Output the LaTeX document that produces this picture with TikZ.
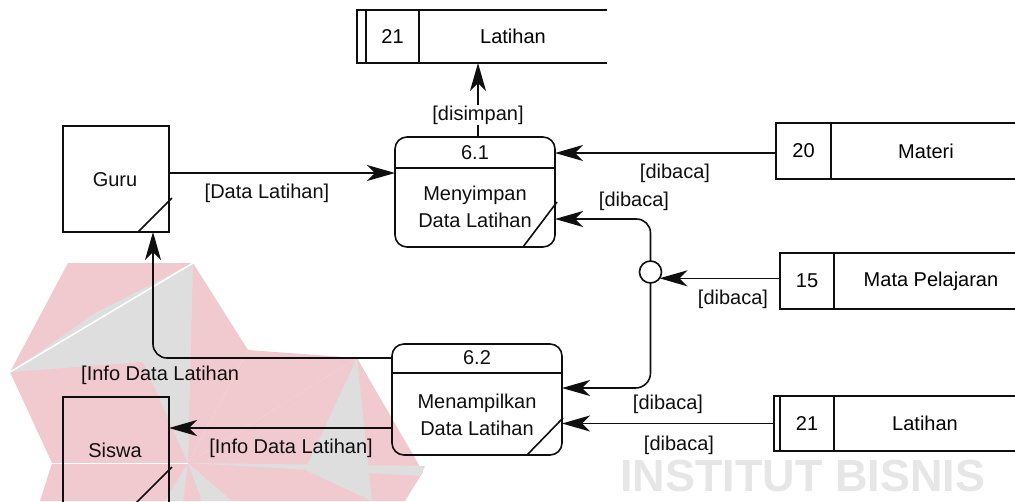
\documentclass[tikz,border=0pt]{standalone}
\usepackage{fontspec}
\setmainfont{Liberation Sans}
\usetikzlibrary{arrows.meta,calc}
\definecolor{wmpink}{RGB}{241,202,207}
\definecolor{wmgray}{RGB}{222,222,222}
\definecolor{wmtext}{RGB}{230,230,230}
\definecolor{ln}{RGB}{15,15,15}
\begin{document}
\begin{tikzpicture}[x=1pt,y=-1pt,font=\fontsize{20}{27}\selectfont,
  flow/.style={line width=1.6pt,draw=ln,-{Stealth[length=28pt,width=16pt,inset=8pt]}},
  boxline/.style={line width=1.6pt,draw=ln},
  proc/.style={draw=ln,line width=1.6pt,rounded corners=12pt,inner sep=0pt,outer sep=0pt},
  ent/.style={draw=ln,line width=1.6pt,minimum size=106pt,inner sep=0pt,outer sep=0pt},
  cell/.style={inner sep=0pt,outer sep=0pt,minimum height=55pt},
  lbl/.style={inner sep=1pt,text=ln},
  txt/.style={inner sep=0pt,align=center,text=ln}]
\useasboundingbox (0,0) rectangle (1015,501);
\clip (0,0) rectangle (1015,501);
% watermark
\fill[wmpink] (68,263) -- (193,263) -- (248,350) -- (188,463) -- (52,463) -- (10,372) -- cycle;
\fill[wmpink] (248,350) -- (357,358) -- (188,463) -- cycle;
\fill[wmpink] (357,358) -- (423,472) -- (405,501) -- (188,501) -- (188,463) -- cycle;
\fill[wmpink] (52,463) -- (188,463) -- (188,501) -- (40,501) -- cycle;
\fill[wmgray] (193,263) -- (97,312) -- (10,372) -- (143,362) -- (188,463) -- cycle;
\draw[white,line width=1.5pt] (193,263) -- (10,372);
\fill[wmgray] (357,358) -- (305,470) -- (372,501) -- cycle;
\fill[wmgray] (188,463) -- (425,466) -- (420,476) -- cycle;
\fill[wmgray] (188,463) -- (165,501) -- (183,501) -- cycle;
\fill[wmgray] (188,463) -- (202,501) -- (232,501) -- cycle;
\draw[white,line width=1pt] (188,463) -- (52,463);
\node[anchor=base west,text=wmtext,font=\bfseries\fontsize{45}{45}\selectfont,inner sep=0pt] (wm) at (620,491) {INSTITUT BISNIS};
% external entities
\node[ent] (guru) at (116,179) {};
\node[txt] (guruT) at (115,180) {Guru};
\draw[boxline] ($(guru.south east)+(-31,0)$) -- ($(guru.south east)+(3,-34)$);
\node[ent] (siswa) at (116,450) {};
\node[txt] (siswaT) at (115,450) {Siswa};
\draw[boxline] ($(siswa.south east)+(-33,0)$) -- ($(siswa.south east)+(3,-36)$);
% processes
\node[proc,minimum width=160pt,minimum height=110pt] (p61) at (475,192) {};
\draw[boxline] ($(p61.north west)+(0,31)$) -- ($(p61.north east)+(0,31)$);
\node[txt] (p61n) at ($(p61.north)+(0,16)$) {6.1};
\node[txt] (p61t) at ($(p61.north)+(0,70)$) {Menyimpan\\Data Latihan};
\draw[boxline] ($(p61.south east)+(-32,0)$) -- ($(p61.south east)+(2,-45)$);
\node[proc,minimum width=170pt,minimum height=111pt] (p62) at (477,399.5) {};
\draw[boxline] ($(p62.north west)+(0,29)$) -- ($(p62.north east)+(0,29)$);
\node[txt] (p62n) at ($(p62.north)+(0,14)$) {6.2};
\node[txt] (p62t) at ($(p62.north)+(0,71)$) {Menampilkan\\Data Latihan};
\draw[boxline] ($(p62.south east)+(-35,0)$) -- ($(p62.south east)+(1,-37)$);
% data stores
\node[cell,draw=ln,line width=1.6pt,minimum width=53pt,minimum height=53pt] (s1n) at (392.5,36.5) {21};
\node[cell,minimum width=188pt,minimum height=53pt] (s1t) at (513,36.5) {Latihan};
\draw[boxline] (s1t.north east) -- ($(s1n.north west)+(-9,0)$) -- ($(s1n.south west)+(-9,0)$) -- (s1t.south east);
\node[cell,draw=ln,line width=1.6pt,minimum width=55pt,minimum height=56pt] (s2n) at (803.5,151) {20};
\node[cell,minimum width=190pt,minimum height=56pt] (s2t) at (926,151) {Materi};
\draw[boxline] (s2n.north east) -- (s2t.north east);
\draw[boxline] (s2n.south east) -- (s2t.south east);
\node[cell,draw=ln,line width=1.6pt,minimum width=54pt,minimum height=56pt] (s3n) at (807,281) {15};
\node[cell,minimum width=194pt,minimum height=56pt] (s3t) at (931,281) {Mata Pelajaran};
\draw[boxline] (s3n.north east) -- (s3t.north east);
\draw[boxline] (s3n.south east) -- (s3t.south east);
\node[cell,draw=ln,line width=1.6pt,minimum width=54pt,minimum height=55pt] (s4n) at (807,423.5) {21};
\node[cell,minimum width=182pt,minimum height=55pt] (s4t) at (925,423.5) {Latihan};
\draw[boxline] (s4t.north east) -- ($(s4n.north west)+(-6,0)$) -- ($(s4n.south west)+(-6,0)$) -- (s4t.south east);
% junction
\node[circle,draw=ln,line width=1.6pt,minimum size=22pt,inner sep=0pt,outer sep=0pt] (jn) at (650.5,272) {};
% flows
\coordinate (a1s) at ($(guru.east)+(0,-6)$);
\draw[flow] (a1s) -- (a1s -| p61.west);
\node[lbl] (l1) at (267,193) {[Data Latihan]};
\coordinate (a2s) at ($(p61.north)+(3,0)$);
\draw[flow] (a2s) -- (a2s |- s1t.south);
\node[lbl,fill=white] (l2) at (478,115) {[disimpan]};
\coordinate (a3s) at ($(s2n.west)+(0,2)$);
\draw[flow] (a3s) -- (a3s -| p61.east);
\node[lbl] (l3) at (675,173) {[dibaca]};
\coordinate (a4e) at ($(p61.east)+(0,27)$);
\draw[flow,rounded corners=14pt] (jn.north) -- (jn.north |- a4e) -- (a4e);
\node[lbl] (l4) at (634,201) {[dibaca]};
\coordinate (a5e) at ($(p62.east)+(0,-11.5)$);
\draw[flow,rounded corners=15pt] (jn.south) -- (jn.south |- a5e) -- (a5e);
\node[lbl] (l5) at (668,404) {[dibaca]};
\draw[flow] (s3n.west |- jn.-35) -- (jn.-35);
\node[lbl] (l6) at (733,299) {[dibaca]};
\coordinate (a7s) at ($(s4n.west)+(-6,0)$);
\draw[flow] (a7s) -- (a7s -| p62.east);
\node[lbl] (l7) at (679,445) {[dibaca]};
\coordinate (a8s) at ($(p62.west)+(0,-41.5)$);
\coordinate (a8e) at ($(guru.south)+(37,0)$);
\draw[flow,rounded corners=14pt] (a8s) -- (a8s -| a8e) -- (a8e);
\node[lbl,anchor=west] (l8) at (80,375) {[Info Data Latihan};
\coordinate (a9s) at ($(p62.west)+(0,28.5)$);
\draw[flow] (a9s) -- (a9s -| siswa.east);
\node[lbl] (l9) at (291,448) {[Info Data Latihan]};
\end{tikzpicture}
\end{document}
